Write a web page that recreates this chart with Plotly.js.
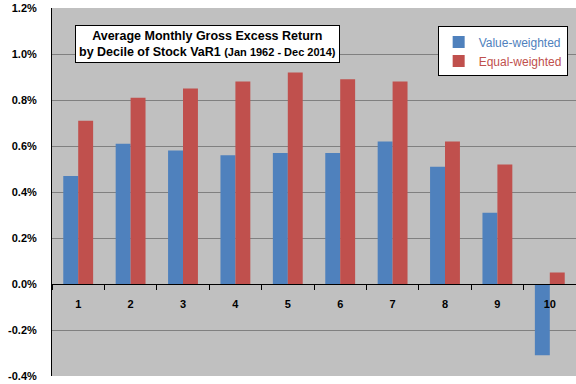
<!DOCTYPE html>
<html>
<head>
<meta charset="utf-8">
<script src="https://cdn.plot.ly/plotly-3.0.1.min.js"></script>
<style>html,body{margin:0;padding:0;background:#fff;}#chart{width:576px;height:384px;}</style>
</head>
<body>
<div id="chart"></div>
<script>
const deciles = ['1','2','3','4','5','6','7','8','9','10'];
const valueWeighted = [0.47, 0.61, 0.58, 0.56, 0.57, 0.57, 0.62, 0.51, 0.31, -0.31];
const equalWeighted = [0.71, 0.81, 0.85, 0.88, 0.92, 0.89, 0.88, 0.62, 0.52, 0.05];
const yTickVals = [-0.4, -0.2, 0, 0.2, 0.4, 0.6, 0.8, 1.0, 1.2];
const yTickText = ['-0.4%', '-0.2%', '0.0%', '0.2%', '0.4%', '0.6%', '0.8%', '1.0%', '1.2%'];

const traces = [
  {type: 'bar', x: deciles, y: valueWeighted,
   name: '<span style="color:#4F81BD">Value-weighted</span>',
   marker: {color: '#4F81BD'}, hoverinfo: 'y'},
  {type: 'bar', x: deciles, y: equalWeighted,
   name: '<span style="color:#C0504D">Equal-weighted</span>',
   marker: {color: '#C0504D'}, hoverinfo: 'y'}
];

const layout = {
  width: 576, height: 384,
  margin: {l: 52, r: 0, t: 8, b: 8},
  paper_bgcolor: '#FFFFFF',
  plot_bgcolor: '#C0C0C0',
  barmode: 'group',
  bargap: 0.43,
  bargroupgap: 0,
  font: {family: 'Liberation Sans, Arial, sans-serif', size: 11, color: '#000'},
  showlegend: true,
  legend: {
    x: 0.736, y: 0.95, xanchor: 'left', yanchor: 'top',
    bgcolor: '#FFFFFF', bordercolor: '#000000', borderwidth: 1,
    font: {size: 12, family: 'Liberation Sans, Arial, sans-serif'},
    tracegroupgap: 0, itemwidth: 30
  },
  xaxis: {
    type: 'category',
    anchor: 'free', position: 0.25,
    layer: 'above traces',
    showline: true, linecolor: '#000', linewidth: 1,
    ticks: 'outside', tickson: 'boundaries', ticklen: 5, tickcolor: '#000',
    tickfont: {size: 11, family: 'Liberation Sans, Arial, sans-serif', weight: 'bold'},
    ticklabelstandoff: 10,
    showgrid: false, zeroline: false
  },
  yaxis: {
    range: [-0.4, 1.2],
    tickvals: yTickVals, ticktext: yTickText,
    showline: true, linecolor: '#000', linewidth: 1,
    ticks: '', ticklabelstandoff: 12,
    showgrid: true, gridcolor: '#808080', gridwidth: 1,
    zeroline: true, zerolinecolor: '#000', zerolinewidth: 1,
    tickfont: {size: 11, family: 'Liberation Sans, Arial, sans-serif', weight: 'bold'}
  },
  annotations: [{
    xref: 'paper', yref: 'paper',
    x: 0.044, y: 0.955, xanchor: 'left', yanchor: 'top',
    text: '<b>Average Monthly Gross Excess Return</b><br><b>by Decile of Stock VaR1 <span style="font-size:11px">(Jan 1962 - Dec 2014)</span></b>',
    showarrow: false, align: 'center',
    font: {size: 12.5, family: 'Liberation Sans, Arial, sans-serif', color: '#000'},
    bgcolor: '#FFFFFF', bordercolor: '#000000', borderwidth: 1, borderpad: 3
  }]
};

Plotly.newPlot('chart', traces, layout, {displayModeBar: false, staticPlot: true});
</script>
</body>
</html>
